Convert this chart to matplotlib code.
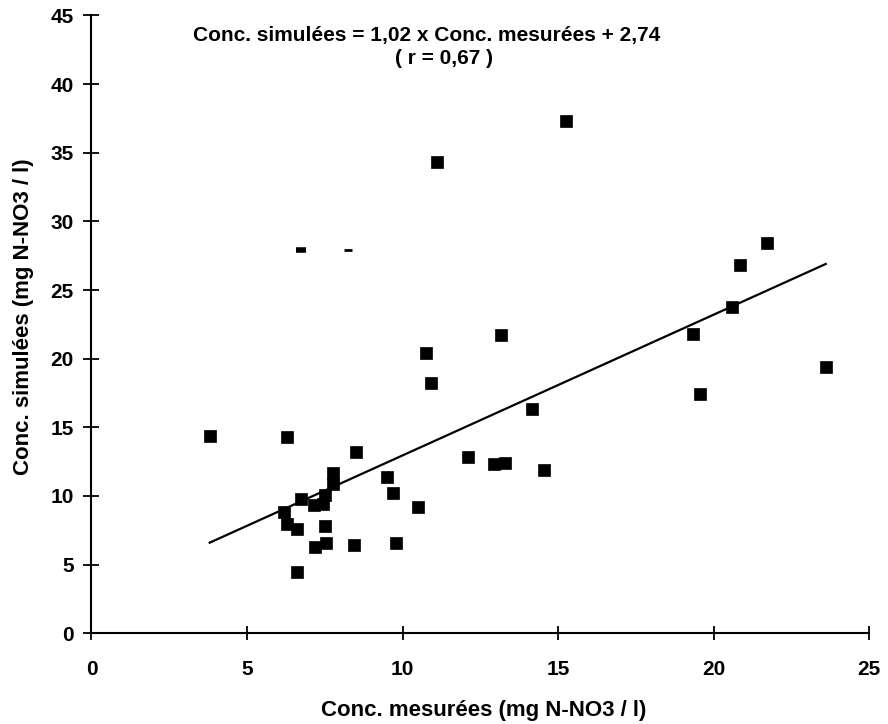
import matplotlib
matplotlib.use("Agg")
import matplotlib.pyplot as plt

plt.rcParams['font.family'] = ['Liberation Sans', 'DejaVu Sans']
plt.rcParams['font.weight'] = 'bold'

# ---- DONNEES ----
conc_mesurees = [3.8, 6.3, 8.5, 7.75, 7.75, 9.5, 9.7, 10.5, 6.75, 7.5,
                 7.45, 7.15, 6.2, 6.6, 7.5, 7.2, 7.55, 8.45, 9.8, 6.6,
                 15.25, 11.1, 21.7, 20.85, 20.6, 19.35, 23.6, 19.55, 13.15, 10.75,
                 10.9, 14.15, 12.1, 12.95, 13.3, 14.55, 6.3]
conc_simulees = [14.4, 14.3, 13.2, 11.7, 10.9, 11.4, 10.25, 9.2, 9.8, 10.1,
                 9.4, 9.35, 8.8, 7.6, 7.8, 6.3, 6.6, 6.4, 6.6, 4.5,
                 37.3, 34.35, 28.4, 26.8, 23.75, 21.8, 19.4, 17.45, 21.7, 20.4,
                 18.25, 16.35, 12.85, 12.3, 12.4, 11.9, 7.95]

# droite de regression (extremites)
droite_x = [3.8, 23.6]
droite_y = [6.6, 26.9]

# petites traces du scan
traces_x = [6.75, 8.25]
traces_y = [27.9, 27.9]

x_ticks = [0, 5, 10, 15, 20, 25]
y_ticks = [0, 5, 10, 15, 20, 25, 30, 35, 40, 45]

equation = "Conc. simulées = 1,02 x Conc. mesurées + 2,74"
correlation = "( r = 0,67 )"

# ---- FIGURE ----
fig = plt.figure(figsize=(8.88, 7.24), dpi=100)
ax = fig.add_axes([0.103, 0.1253, 0.8759, 0.8533])

ax.plot(droite_x, droite_y, color="black", linewidth=1.6, zorder=2)
ax.plot(conc_mesurees, conc_simulees, linestyle="none", marker="s",
        markersize=8, markerfacecolor="black", markeredgecolor="black",
        markeredgewidth=0.5, zorder=3)
ax.plot(traces_x[:1], traces_y[:1], linestyle="none", marker="_",
        markersize=7, markeredgewidth=4, color="black")
ax.plot(traces_x[1:], traces_y[1:], linestyle="none", marker="_",
        markersize=6, markeredgewidth=2, color="black")

ax.set_xlim(0, 25)
ax.set_ylim(0, 45)
ax.set_xticks(x_ticks)
ax.set_yticks(y_ticks)

for side in ["top", "right"]:
    ax.spines[side].set_visible(False)
for side in ["left", "bottom"]:
    ax.spines[side].set_linewidth(1.5)
    ax.spines[side].set_color("black")

ax.tick_params(axis="x", direction="inout", length=10, width=1.3,
               labelsize=15, pad=14)
ax.tick_params(axis="y", direction="inout", length=11.5, width=1.3,
               labelsize=15, pad=7)
for lab in ax.get_xticklabels() + ax.get_yticklabels():
    lab.set_fontweight("bold")

ax.set_xlabel("Conc. mesurées (mg N-NO3 / l)", fontsize=16,
              fontweight="bold")
ax.set_ylabel("Conc. simulées (mg N-NO3 / l)", fontsize=16,
              fontweight="bold")
ax.xaxis.set_label_coords(0.504, -0.108)
ax.yaxis.set_label_coords(-0.074, 0.512)

fig.text(427 / 888, 1 - 36 / 724, equation, ha="center", va="center",
         fontsize=15, fontweight="bold")
fig.text(444 / 888, 1 - 59 / 724, correlation, ha="center", va="center",
         fontsize=15, fontweight="bold")

fig.savefig("out.png", dpi=100)
